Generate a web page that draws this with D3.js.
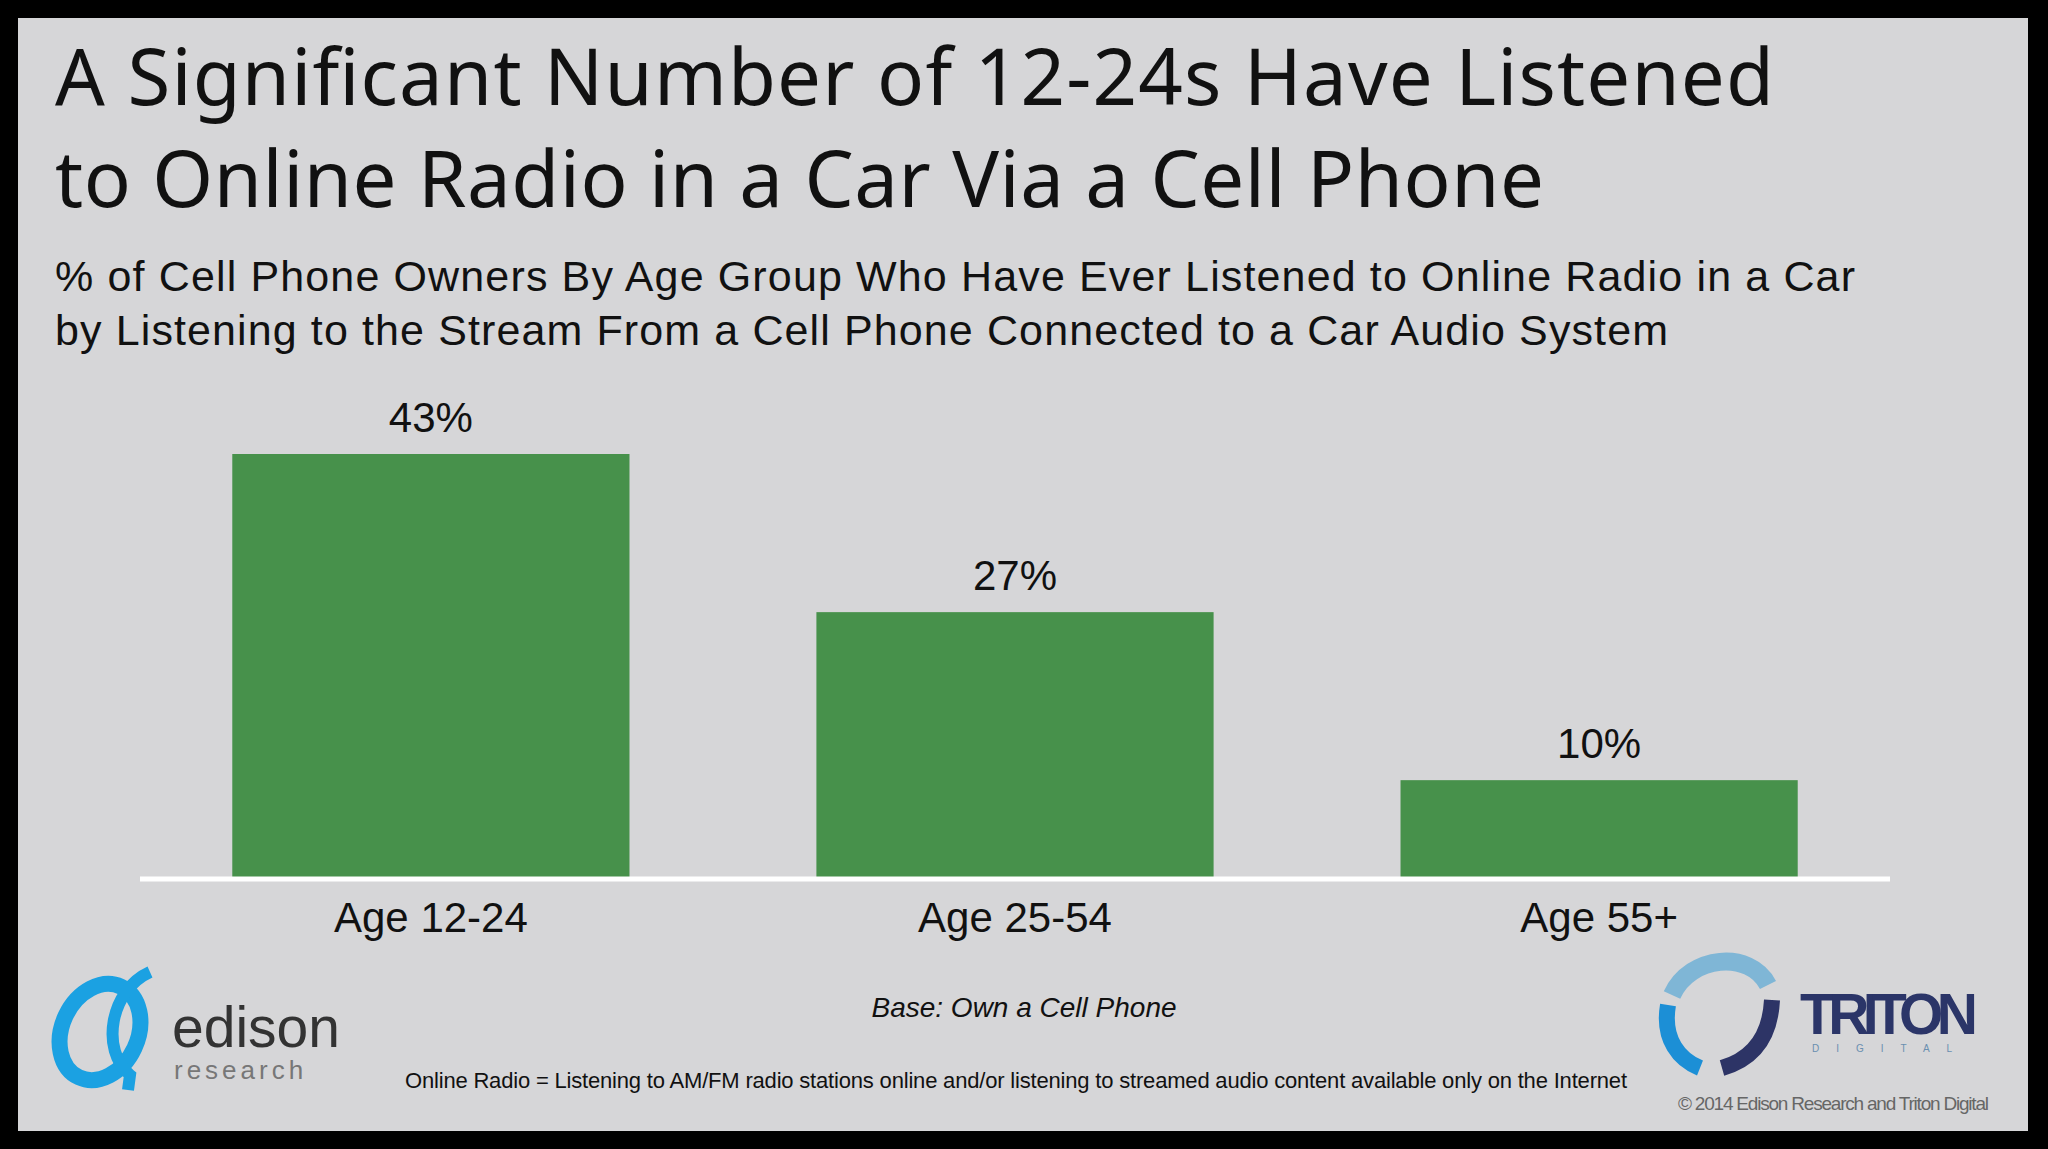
<!DOCTYPE html>
<html><head><meta charset="utf-8">
<script src="https://cdn.jsdelivr.net/npm/d3@7"></script>
<style>body{margin:0;background:#000;overflow:hidden}</style>
</head><body>
<script>
const categories = ["Age 12-24", "Age 25-54", "Age 55+"];
const values = [43, 27, 10];
const valueLabels = ["43%", "27%", "10%"];

const W = 2048, H = 1149;
const svg = d3.select("body").append("svg").attr("width", W).attr("height", H);
svg.append("rect").attr("width", W).attr("height", H).attr("fill", "#000");
svg.append("rect").attr("x", 18).attr("y", 18).attr("width", 2010).attr("height", 1113).attr("fill", "#d6d6d8");

const F = "'Liberation Sans', Arial, sans-serif";
const T = "'Noto Sans', 'Open Sans', sans-serif";
svg.append("text").attr("x", 55).attr("y", 105).attr("font-family", T).attr("font-size", 78).attr("fill", "#111").attr("textLength", 1719).text("A Significant Number of  12-24s Have Listened");
svg.append("text").attr("x", 55).attr("y", 207).attr("font-family", T).attr("font-size", 78).attr("fill", "#111").attr("textLength", 1489).text("to Online Radio in a Car Via a Cell Phone");
svg.append("text").attr("x", 55).attr("y", 291).attr("font-family", F).attr("font-size", 43).attr("fill", "#111").attr("textLength", 1800).text("% of Cell Phone Owners By Age Group Who Have Ever Listened to Online Radio in a Car");
svg.append("text").attr("x", 55).attr("y", 345).attr("font-family", F).attr("font-size", 43).attr("fill", "#111").attr("textLength", 1613).text("by Listening to the Stream From a Cell Phone Connected to a Car Audio System");

const x = d3.scaleBand().domain(categories).range([140, 1890]).paddingInner(0.32).paddingOuter(0.158);
const y = d3.scaleLinear().domain([0, 43]).range([879, 454]);

svg.selectAll("rect.bar").data(values).join("rect").attr("class", "bar")
  .attr("x", (d, i) => x(categories[i])).attr("width", x.bandwidth())
  .attr("y", d => y(d)).attr("height", d => y(0) - y(d)).attr("fill", "#47914b");

svg.selectAll("text.val").data(values).join("text").attr("class", "val")
  .attr("x", (d, i) => x(categories[i]) + x.bandwidth() / 2).attr("y", d => y(d) - 22)
  .attr("text-anchor", "middle").attr("font-family", F).attr("font-size", 42).attr("fill", "#111")
  .text((d, i) => valueLabels[i]);

const axis = svg.append("g").attr("transform", "translate(0,879)").call(d3.axisBottom(x).tickSize(0).tickPadding(23));
axis.select(".domain").attr("stroke", "#fff").attr("stroke-width", 5).attr("d", "M140,0H1890");
axis.selectAll("text").attr("font-family", F).attr("font-size", 42).attr("fill", "#111");

svg.append("text").attr("x", 1024).attr("y", 1017).attr("text-anchor", "middle").attr("font-family", F).attr("font-style", "italic").attr("font-size", 28).attr("fill", "#111").text("Base: Own a Cell Phone");
svg.append("text").attr("x", 1016).attr("y", 1088).attr("text-anchor", "middle").attr("font-family", F).attr("font-size", 22).attr("fill", "#111").attr("textLength", 1222).text("Online Radio = Listening to AM/FM radio stations online and/or listening to streamed audio content available only on the Internet");
svg.append("text").attr("x", 1989).attr("y", 1110).attr("text-anchor", "end").attr("font-family", F).attr("font-size", 19).attr("fill", "#666").attr("textLength", 311).text("© 2014 Edison Research and Triton Digital");

// Edison logo
svg.append("ellipse").attr("cx", 100).attr("cy", 1032).attr("rx", 38).attr("ry", 50).attr("fill", "none").attr("stroke", "#1ba1e2").attr("stroke-width", 16).attr("transform", "rotate(25,100,1032)");
svg.append("path").attr("d", "M150,972 C110,990 100,1050 130,1075 L128,1090").attr("fill", "none").attr("stroke", "#1ba1e2").attr("stroke-width", 12);
svg.append("text").attr("x", 172).attr("y", 1047).attr("font-family", F).attr("font-size", 57).attr("fill", "#333").text("edison");
svg.append("text").attr("x", 174).attr("y", 1079).attr("font-family", F).attr("font-size", 26).attr("letter-spacing", 4).attr("fill", "#777").text("research");

// Triton logo
svg.append("path").attr("d", "M1672,995 C1690,955 1750,950 1768,985").attr("fill", "none").attr("stroke", "#7fb6d6").attr("stroke-width", 18);
svg.append("path").attr("d", "M1668,1005 C1662,1040 1680,1060 1700,1068").attr("fill", "none").attr("stroke", "#1c8fd6").attr("stroke-width", 16);
svg.append("path").attr("d", "M1772,1000 C1770,1040 1750,1060 1722,1068").attr("fill", "none").attr("stroke", "#2d3466").attr("stroke-width", 16);
svg.append("text").attr("x", 1800).attr("y", 1034).attr("font-family", F).attr("font-weight", "bold").attr("font-size", 57).attr("fill", "#2b3568").attr("textLength", 178).text("TRITON");
svg.append("text").attr("x", 1812).attr("y", 1052).attr("font-family", F).attr("font-size", 10).attr("letter-spacing", 17).attr("fill", "#6a8fb0").text("DIGITAL");
</script>
</body></html>
